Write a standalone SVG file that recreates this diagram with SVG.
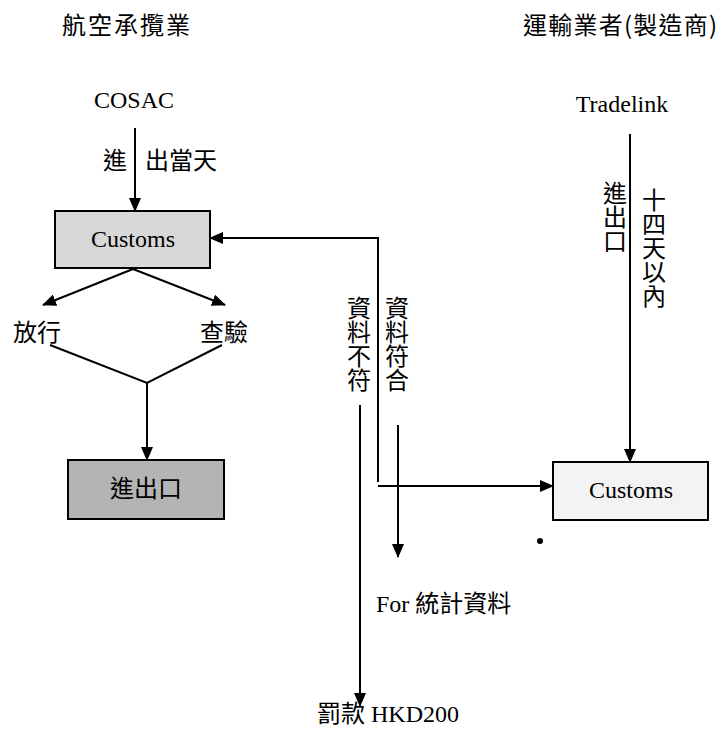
<svg xmlns="http://www.w3.org/2000/svg" width="723" height="734" viewBox="0 0 723 734">
<style>
.bg{fill:#fff}
.lat{font-family:"Liberation Serif","Noto Sans CJK TC",serif;font-size:24px;fill:#000}
.cjk{font-family:"Noto Sans CJK TC","Noto Sans CJK SC",sans-serif;font-size:24px;fill:#000}
.vert{writing-mode:vertical-rl;text-orientation:upright}
.box{stroke:#000;stroke-width:2}
.ln{fill:none;stroke:#000;stroke-width:2}
</style>
<defs>
<marker id="ah" viewBox="0 0 14 12" refX="13" refY="6" markerWidth="14" markerHeight="12" markerUnits="userSpaceOnUse" orient="auto">
<path d="M0,0 L14,6 L0,12 Z" fill="#000"/>
</marker>
</defs>
<rect class="bg" x="0" y="0" width="723" height="734"/>

<g id="header-left"><text class="cjk" x="62" y="34" font-size="25" textLength="128" lengthAdjust="spacing">航空承攬業</text></g>
<g id="header-right"><text class="cjk" x="523" y="34" font-size="26" textLength="194" lengthAdjust="spacing">運輸業者(製造商)</text></g>

<g id="cosac"><text class="lat" x="134" y="108" text-anchor="middle" font-size="23.5">COSAC</text></g>
<g id="label-same-day"><text class="cjk" x="103" y="169">進</text><text class="cjk" x="145" y="169">出當天</text></g>

<g id="customs-left">
<rect class="box" x="55" y="211" width="155" height="57" fill="#d8d8d8"/>
<text class="lat" x="133" y="247" text-anchor="middle" font-size="26">Customs</text>
</g>

<g id="release"><text class="cjk" x="13" y="341" font-size="25">放行</text></g>
<g id="inspect"><text class="cjk" x="200" y="341" font-size="25">查驗</text></g>

<g id="import-export">
<rect class="box" x="68" y="460" width="156" height="59" fill="#b4b4b4"/>
<text class="cjk" x="146" y="497" text-anchor="middle">進出口</text>
</g>

<g id="tradelink"><text class="lat" x="622" y="112" text-anchor="middle">Tradelink</text></g>
<g id="label-14days">
<text class="cjk vert" x="615" y="181">進出口</text>
<text class="cjk vert" x="654" y="188">十四天以內</text>
</g>

<g id="customs-right">
<rect class="box" x="553" y="462" width="155" height="58" fill="#f3f3f3"/>
<text class="lat" x="631" y="498" text-anchor="middle" font-size="26">Customs</text>
</g>

<g id="label-mismatch"><text class="cjk vert" x="359" y="296">資料不符</text></g>
<g id="label-match"><text class="cjk vert" x="397" y="296">資料符合</text></g>

<g id="statistics"><text class="lat" x="376" y="612" font-size="25">For 統計資料</text></g>
<g id="penalty"><text class="lat" x="317" y="722">罰款 HKD200</text></g>

<g id="connectors">
<line class="ln" x1="135" y1="128" x2="135" y2="211" marker-end="url(#ah)"/>
<line class="ln" x1="133" y1="269" x2="43" y2="305" marker-end="url(#ah)"/>
<line class="ln" x1="133" y1="269" x2="225" y2="305" marker-end="url(#ah)"/>
<polyline class="ln" points="50,345 147,383 222,345"/>
<line class="ln" x1="147" y1="383" x2="147" y2="460" marker-end="url(#ah)"/>
<polyline class="ln" points="378,482 378,238 210,238" marker-end="url(#ah)"/>
<line class="ln" x1="378" y1="486" x2="553" y2="486" marker-end="url(#ah)"/>
<line class="ln" x1="398" y1="425" x2="398" y2="557" marker-end="url(#ah)"/>
<line class="ln" x1="360" y1="405" x2="360" y2="706" marker-end="url(#ah)"/>
<line class="ln" x1="630" y1="134" x2="630" y2="462" marker-end="url(#ah)"/>
</g>
<circle cx="540" cy="541" r="3" fill="#000"/>
</svg>
